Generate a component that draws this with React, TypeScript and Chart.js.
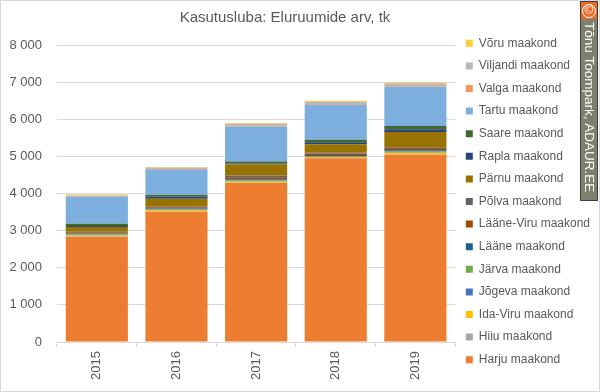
import { useEffect, useRef } from "react";
import { Chart, registerables } from "chart.js";

Chart.register(...registerables);

const years = ["2015", "2016", "2017", "2018", "2019"];
const chartTitle = "Kasutusluba: Eluruumide arv, tk";
const watermark = "Tõnu Toompark, ADAUR.EE";
const yTicks = [0, 1000, 2000, 3000, 4000, 5000, 6000, 7000, 8000];

const seriesNames = [
  "Harju maakond", "Hiiu maakond", "Ida-Viru maakond", "Jõgeva maakond", "Järva maakond",
  "Lääne maakond", "Lääne-Viru maakond", "Põlva maakond", "Pärnu maakond", "Rapla maakond",
  "Saare maakond", "Tartu maakond", "Valga maakond", "Viljandi maakond", "Võru maakond",
];
const harju = [2830, 3504, 4284, 4950, 5035];
const hiiu = [10, 10, 5, 5, 10];
const idaViru = [30, 40, 25, 25, 50];
const jogeva = [10, 10, 10, 15, 15];
const jarva = [20, 15, 30, 15, 20];
const laane = [25, 20, 27, 25, 36];
const laaneViru = [30, 30, 60, 45, 36];
const polva = [15, 20, 45, 15, 27];
const parnu = [127, 207, 295, 230, 429];
const rapla = [30, 62, 27, 54, 72];
const saare = [55, 45, 54, 70, 90];
const tartu = [728, 674, 946, 940, 1064];
const valga = [15, 25, 25, 25, 35];
const viljandi = [30, 35, 45, 55, 50];
const voru = [15, 20, 20, 27, 22];

const seriesValues = [harju, hiiu, idaViru, jogeva, jarva, laane, laaneViru, polva, parnu, rapla, saare, tartu, valga, viljandi, voru];
const seriesColors = [
  "#ED7D31", "#A5A5A5", "#FFC000", "#4472C4", "#70AD47",
  "#255E91", "#9E480E", "#636363", "#997300", "#264478",
  "#43682B", "#7CAFDD", "#F1975A", "#B7B7B7", "#FFCD33",
];

const FONT = "'Liberation Sans', Arial, sans-serif";
const TEXT = "#595959";

const decorPlugin = {
  id: "decor",
  afterLayout(chart: any) {
    const t = chart.titleBlock;
    if (t) {
      t.left -= 15;
      t.right -= 15;
    }
  },
  afterDraw(chart: any) {
    const ctx = chart.ctx;
    ctx.save();
    ctx.strokeStyle = "#D9D9D9";
    ctx.lineWidth = 1;
    ctx.strokeRect(0.5, 0.5, chart.width - 1, chart.height - 1);
    const x0 = 580, y0 = 1, w = 18, h = 200;
    ctx.fillStyle = "#7F7F6E";
    ctx.fillRect(x0, y0, w, h);
    ctx.fillStyle = "#EE6A24";
    ctx.fillRect(x0, y0, w, 18);
    ctx.strokeStyle = "#3F3F3F";
    ctx.strokeRect(x0 + 0.5, y0 + 0.5, w - 1, h - 1);
    ctx.fillStyle = "#FFFFFF";
    ctx.font = `12px ${FONT}`;
    ctx.textAlign = "center";
    ctx.textBaseline = "middle";
    ctx.fillText("©", x0 + w / 2, y0 + 10);
    ctx.strokeStyle = "#FFFFFF";
    ctx.beginPath();
    ctx.arc(x0 + w / 2, y0 + 10, 6.5, 0, Math.PI * 2);
    ctx.stroke();
    ctx.translate(x0 + w / 2, y0 + 21);
    ctx.rotate(Math.PI / 2);
    ctx.font = `13.5px ${FONT}`;
    ctx.fillStyle = "#FFFFFF";
    ctx.textAlign = "left";
    ctx.fillText(watermark, 0, 0.5);
    ctx.restore();
  },
};

export default function App() {
  const ref = useRef<HTMLCanvasElement>(null);
  useEffect(() => {
    document.body.style.margin = "0";
    const canvas = ref.current;
    if (!canvas) return;
    const chart = new Chart(canvas, {
      type: "bar",
      data: {
        labels: years,
        datasets: seriesNames.map((name, i) => ({
          label: name,
          data: seriesValues[i],
          backgroundColor: seriesColors[i],
          borderWidth: 0,
          categoryPercentage: 1,
          barPercentage: 0.78,
        })),
      },
      options: {
        animation: false,
        responsive: false,
        maintainAspectRatio: false,
        layout: { padding: { top: 11, left: 0, right: 0, bottom: 0 } },
        plugins: {
          title: {
            display: true,
            text: chartTitle,
            color: TEXT,
            font: { family: FONT, size: 15, weight: "normal", lineHeight: 0.8 },
            padding: { top: 1, bottom: 21 },
          },
          tooltip: { enabled: false },
          legend: {
            position: "right",
            reverse: true,
            labels: {
              boxWidth: 7,
              boxHeight: 7,
              padding: 10.6,
              color: TEXT,
              font: { family: FONT, size: 12 },
            },
          },
        },
        scales: {
          x: {
            stacked: true,
            grid: { display: true, drawOnChartArea: false, color: "#D9D9D9", tickLength: 5, offset: true },
            border: { color: "#D9D9D9" },
            afterFit(scale: any) {
              scale.height = 50;
            },
            ticks: {
              color: TEXT,
              font: { family: FONT, size: 13 },
              minRotation: 90,
              maxRotation: 90,
              padding: 4,
            },
          },
          y: {
            stacked: true,
            min: 0,
            max: 8000,
            grid: { color: "#D9D9D9", drawTicks: false },
            border: { display: false },
            afterBuildTicks(scale: any) {
              scale.ticks = yTicks.map((v) => ({ value: v }));
            },
            afterFit(scale: any) {
              scale.width = 57;
            },
            ticks: {
              color: TEXT,
              font: { family: FONT, size: 13 },
              padding: 15,
              callback: (v: any) => Number(v).toLocaleString("en-US").replace(/,/g, " "),
            },
          },
        },
      },
      plugins: [decorPlugin],
    });
    return () => chart.destroy();
  }, []);
  return <canvas ref={ref} width={600} height={392} style={{ display: "block" }} />;
}
